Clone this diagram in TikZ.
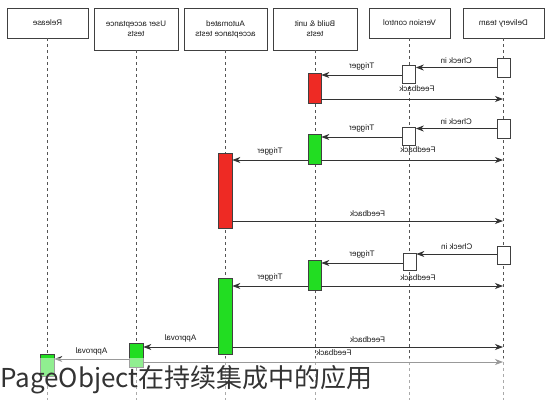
\documentclass[tikz,border=0pt]{standalone}
\usepackage{fontspec}
\setmainfont{Liberation Sans}
\newfontfamily\cjk{Noto Sans CJK SC}
\usetikzlibrary{arrows.meta}
\definecolor{actred}{HTML}{EE2A24}
\definecolor{actgreen}{HTML}{22DD22}
\definecolor{lineg}{HTML}{555555}
\newcommand{\mir}[1]{\reflectbox{#1}}
\begin{document}
\begin{tikzpicture}[x=1pt,y=-1pt,
  hdr/.style={draw=black!75,line width=0.8pt,minimum width=81pt,inner sep=0pt,font=\fontsize{8}{10}\selectfont,align=center,text=black!90},
  lifeline/.style={draw=lineg,line width=0.6pt,dash pattern=on 3pt off 3pt},
  actbox/.style={draw=black!75,line width=0.7pt,minimum width=13pt,inner sep=0pt,fill=white},
  redact/.style={actbox,fill=actred},
  greenact/.style={actbox,fill=actgreen},
  msg/.style={draw=black!80,line width=0.8pt,-{Stealth[length=8pt,width=6pt,inset=2.5pt]}},
  lbl/.style={font=\fontsize{8}{9}\selectfont,inner sep=0pt,text=black!90}]
\useasboundingbox (0,0) rectangle (555,400);
\fill[white] (0,0) rectangle (555,400);
% headers
\node[hdr,minimum height=30pt] (hRel) at (47.5,23) {\mir{Release}};
\node[hdr,minimum height=42pt,minimum width=84pt] (hUat) at (136,29) {\mir{User acceptance}\\\mir{tests}};
\node[hdr,minimum height=42pt,minimum width=83pt] (hAut) at (225.5,29) {\mir{Automated}\\\mir{acceptance tests}};
\node[hdr,minimum height=42pt,minimum width=84pt] (hBld) at (315,29) {\mir{Build \& unit}\\\mir{tests}};
\node[hdr,minimum height=30pt] (hVc) at (409.5,23) {\mir{Version control}};
\node[hdr,minimum height=30pt] (hDel) at (503.5,23) {\mir{Delivery team}};
% lifelines
\coordinate (eRel) at (47,400);
\coordinate (eUat) at (136,400);
\coordinate (eAut) at (225,400);
\coordinate (eBld) at (315,400);
\coordinate (eVc) at (409,400);
\coordinate (eDel) at (503,400);
\draw[lifeline] (hRel.south -| eRel) -- (eRel);
\draw[lifeline] (hUat.south -| eUat) -- (eUat);
\draw[lifeline] (hAut.south -| eAut) -- (eAut);
\draw[lifeline] (hBld.south -| eBld) -- (eBld);
\draw[lifeline] (hVc.south -| eVc) -- (eVc);
\draw[lifeline] (hDel.south -| eDel) -- (eDel);
% activation boxes
\node[actbox,minimum height=19pt] (d1) at (503.5,67.5) {};
\node[actbox,minimum height=19pt] (d2) at (503.5,128.5) {};
\node[actbox,minimum height=18pt] (d3) at (504,255) {};
\node[actbox,minimum height=18pt] (v1) at (409,74) {};
\node[actbox,minimum height=18pt] (v2) at (409,136) {};
\node[actbox,minimum height=17pt] (v3) at (409.5,261.5) {};
\node[redact,minimum height=30pt] (b1) at (314.5,88) {};
\node[greenact,minimum height=30pt] (b2) at (314.5,149) {};
\node[greenact,minimum height=30pt] (b3) at (314.5,275) {};
\node[redact,minimum height=75pt,minimum width=14pt] (a1) at (225,190.5) {};
\node[greenact,minimum height=76pt,minimum width=14pt] (a2) at (225,316) {};
\node[greenact,minimum height=24pt,minimum width=14pt] (u1) at (136,355) {};
\node[greenact,minimum height=22pt,minimum width=14pt] (r1) at (47,365) {};
% messages
\coordinate (f1) at (503,99);
\coordinate (f2) at (503,160);
\coordinate (f3) at (503,221);
\coordinate (f4) at (503,286);
\coordinate (f5) at (503,347);
\coordinate (f6) at (503,362);
\draw[msg] (d1.west) -- (v1.east |- d1.west) node[lbl,midway,above=4pt] {\mir{Check in}};
\draw[msg] (v1.west |- 0,75) -- (b1.east |- 0,75) node[lbl,midway,above=4pt] {\mir{Trigger}};
\draw[msg] (b1.east |- f1) -- (f1);
\node[lbl] (lf1) at (417,89) {\mir{Feedback}};
\draw[msg] (d2.west) -- (v2.east |- d2.west) node[lbl,midway,above=4pt] {\mir{Check in}};
\draw[msg] (v2.west |- 0,137) -- (b2.east |- 0,137) node[lbl,midway,above=4pt] {\mir{Trigger}};
\draw[msg] (b2.east |- f2) -- (f2);
\node[lbl] (lf2) at (418,150) {\mir{Feedback}};
\draw[msg] (b2.west |- f2) -- (a1.east |- f2) node[lbl,midway,above=4pt] {\mir{Trigger}};
\draw[msg] (a1.east |- f3) -- (f3) node[lbl,midway,above=4pt] {\mir{Feedback}};
\draw[msg] (d3.west |- 0,254) -- (v3.east |- 0,254) node[lbl,midway,above=4pt] {\mir{Check in}};
\draw[msg] (v3.west |- 0,263) -- (b3.east |- 0,263) node[lbl,midway,above=4pt] {\mir{Trigger}};
\draw[msg] (b3.east |- f4) -- (f4);
\node[lbl] (lf4) at (418,278) {\mir{Feedback}};
\draw[msg] (b3.west |- f4) -- (a2.east |- f4) node[lbl,midway,above=4pt] {\mir{Trigger}};
\draw[msg] (a2.east |- f5) -- (f5) node[lbl,midway,above=4pt] {\mir{Feedback}};
\draw[msg] (a2.west |- f5) -- (u1.east |- f5) node[lbl,midway,above=4pt] {\mir{Approval}};
\draw[msg] (u1.west |- 0,359) -- (r1.east |- 0,359) node[lbl,midway,above=3pt] {\mir{Approval}};
\draw[msg] (u1.east |- f6) -- (f6);
\node[lbl] (lf6) at (334,353) {\mir{Feedback}};
% fade
\fill[white,opacity=0.5] (0,358) rectangle (555,400);
\node[anchor=base west,inner sep=0pt,font=\cjk\fontsize{26}{30}\selectfont,text=black!80] (wm) at (0,387) {PageObject在持续集成中的应用};
\end{tikzpicture}
\end{document}
